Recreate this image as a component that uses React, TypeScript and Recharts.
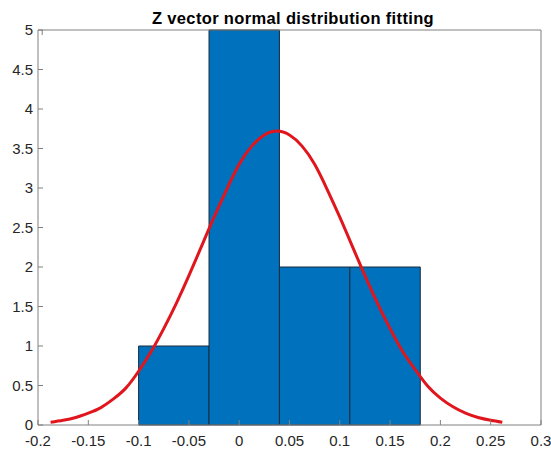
import { ComposedChart, Line, XAxis, YAxis, ReferenceArea } from "recharts";

// axis ticks as shown in the figure
const xTicks = [-0.2, -0.15, -0.1, -0.05, 0, 0.05, 0.1, 0.15, 0.2, 0.25, 0.3];
const yTicks = [0, 0.5, 1, 1.5, 2, 2.5, 3, 3.5, 4, 4.5, 5];

// histogram bins (edges) and counts
const binEdges = [-0.1, -0.03, 0.04, 0.11, 0.18];
const binCounts = [1, 5, 2, 2];

// fitted normal curve
const fitX = [-0.1875, -0.175, -0.1625, -0.15, -0.1375, -0.125, -0.1125, -0.1, -0.0875, -0.075, -0.0625, -0.05, -0.0375, -0.025, -0.0125, 0, 0.0125, 0.025, 0.0375, 0.05, 0.0625, 0.075, 0.0875, 0.1, 0.1125, 0.125, 0.1375, 0.15, 0.1625, 0.175, 0.1875, 0.2, 0.2125, 0.225, 0.2375, 0.25, 0.2615];
const fitY = [0.035, 0.06, 0.095, 0.15, 0.22, 0.33, 0.47, 0.68, 0.93, 1.22, 1.54, 1.89, 2.26, 2.63, 2.98, 3.3, 3.53, 3.67, 3.72, 3.67, 3.53, 3.3, 2.98, 2.63, 2.26, 1.89, 1.54, 1.22, 0.93, 0.7, 0.49, 0.34, 0.23, 0.15, 0.095, 0.06, 0.035];

const curve = fitX.map((x, i) => ({ x, y: fitY[i] }));

const axisColor = "#808080";
const textColor = "#262626";
const font = "Arial, 'Liberation Sans', Helvetica, sans-serif";
const tickStyle = { fontSize: 15, fill: textColor, fontFamily: font };
const noTick = () => <g />;

export default function App() {
  return (
    <div style={{ position: "absolute", left: 0, top: 0, width: 551, height: 451, background: "#fff" }}>
      <div
        style={{
          position: "absolute",
          left: 41,
          width: 504,
          top: 10,
          textAlign: "center",
          fontFamily: font,
          fontWeight: "bold",
          fontSize: 16.5,
          letterSpacing: 0.35,
          lineHeight: "16px",
          color: "#000",
        }}
      >
        Z vector normal distribution fitting
      </div>
      <ComposedChart width={551} height={451} data={curve} margin={{ top: 0, right: 0, bottom: 0, left: 0 }}>
        <XAxis
          dataKey="x"
          type="number"
          domain={[-0.2, 0.3]}
          ticks={xTicks}
          allowDataOverflow
          height={26}
          tickSize={-5}
          tickMargin={15}
          stroke={axisColor}
          tick={tickStyle}
        />
        <XAxis
          xAxisId="top"
          orientation="top"
          type="number"
          domain={[-0.2, 0.3]}
          ticks={xTicks}
          height={30}
          tickSize={-5}
          stroke={axisColor}
          tick={noTick}
        />
        <YAxis
          type="number"
          domain={[0, 5]}
          ticks={yTicks}
          width={38}
          tickSize={-5}
          tickMargin={10}
          stroke={axisColor}
          tick={tickStyle}
        />
        <YAxis
          yAxisId="right"
          orientation="right"
          type="number"
          domain={[0, 5]}
          ticks={yTicks}
          width={10}
          tickSize={-5}
          stroke={axisColor}
          tick={noTick}
        />
        {binCounts.map((c, i) => (
          <ReferenceArea
            key={i}
            x1={binEdges[i]}
            x2={binEdges[i + 1]}
            y1={0}
            y2={c}
            fill="#0072BD"
            fillOpacity={1}
            stroke="#1b2a3c"
            strokeWidth={1}
            strokeOpacity={1}
          />
        ))}
        <Line
          dataKey="y"
          type="natural"
          stroke="#e0161c"
          strokeWidth={3}
          dot={false}
          isAnimationActive={false}
        />
      </ComposedChart>
    </div>
  );
}
